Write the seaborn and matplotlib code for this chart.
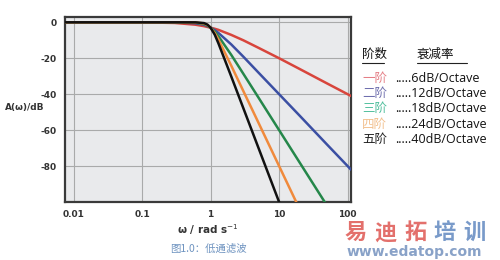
import numpy as np
import pandas as pd
import matplotlib
matplotlib.use("Agg")
import matplotlib.pyplot as plt
import seaborn as sns
from matplotlib.ticker import FixedLocator, NullFormatter, LogLocator

# ---- data ----
omega = [0.0075, 0.1, 0.3, 0.6, 0.8, 0.9, 1.0, 1.15, 1.3, 2, 3, 5, 10, 20, 50, 100, 112]
order1 = [0, -0.04, -0.37, -1.34, -2.15, -2.6, -3.0, -3.6, -4.2, -7.0, -10.0, -14.2, -20.0, -26.0, -34.0, -40.0, -41.0]
order2 = [0, 0, -0.04, -0.53, -1.34, -2.1, -3.0, -4.4, -5.9, -12.3, -19.1, -28.0, -40.0, -52.0, -68.0, -80.0, -82.0]
order3 = [0, 0, 0, -0.2, -1.0, -1.8, -3.0, -5.2, -7.7, -18.1, -28.6, -41.9, -60.0, -78.1, -102.0, -120.0, -123.0]
order4 = [0, 0, 0, -0.07, -0.67, -1.5, -3.0, -6.0, -9.6, -24.1, -38.2, -55.9, -80.0, -104.1, -136.0, -160.0, -164.0]
order5 = [0, 0, 0, -0.03, -0.44, -1.3, -3.0, -6.9, -11.7, -30.1, -47.7, -69.9, -100.0, -130.1, -170.0, -200.0, -205.0]
series_names = ["一阶", "二阶", "三阶", "四阶", "五阶"]
rates = ["6dB/Octave", "12dB/Octave", "18dB/Octave", "24dB/Octave", "40dB/Octave"]
y_ticks = [0, -20, -40, -60, -80]
x_ticks = [0.01, 0.1, 1, 10, 100]
x_ticklabels = ["0.01", "0.1", "1", "10", "100"]

line_colors = ["#d8453c", "#3b4fa3", "#25874a", "#f08a3c", "#111111"]
label_colors = ["#e57f86", "#6f6fae", "#4fbf9c", "#f2c08e", "#222222"]

frames = []
for name, vals in zip(series_names, [order1, order2, order3, order4, order5]):
    frames.append(pd.DataFrame({"omega": omega, "A": vals, "order": name}))
df = pd.concat(frames, ignore_index=True)

sns.set_theme(style="white")
plt.rcParams['font.family'] = ['Noto Sans CJK SC', 'DejaVu Sans']

fig = plt.figure(figsize=(5, 2.6), dpi=100)
ax = fig.add_axes([0.13, 0.223, 0.572, 0.712])
ax.set_facecolor("#e9eaec")

sns.lineplot(data=df, x="omega", y="A", hue="order", palette=line_colors,
             hue_order=series_names, linewidth=1.8, legend=False, ax=ax, zorder=3)
ax.set_xscale("log")
ax.set_xlim(0.0075, 112)
ax.set_ylim(-100, 3)

ax.xaxis.set_major_locator(FixedLocator(x_ticks))
ax.set_xticklabels(x_ticklabels)
ax.xaxis.set_minor_locator(LogLocator(base=10, subs=np.arange(2, 10)))
ax.xaxis.set_minor_formatter(NullFormatter())
ax.set_yticks(y_ticks)
ax.set_yticklabels([str(v) for v in y_ticks])
ax.yaxis.set_minor_locator(FixedLocator(np.arange(-100, 4, 4)))

ax.grid(True, which="major", color="#a9aaaa", linewidth=0.8, zorder=0)
ax.set_axisbelow(True)
for s in ax.spines.values():
    s.set_color("#3a3a3a")
    s.set_linewidth(1.6)

ax.tick_params(axis="both", which="major", direction="in", length=3, width=1,
               color="#555555", labelsize=6.5, labelcolor="#333333", pad=6)
ax.tick_params(axis="both", which="minor", direction="in", length=2, width=0.8, color="#666666")
for lab in ax.get_xticklabels() + ax.get_yticklabels():
    lab.set_fontweight("bold")
    lab.set_family("DejaVu Sans")

ax.set_xlabel("ω / rad s$^{-1}$", fontsize=7.5, fontweight="bold", color="#333333",
              family="DejaVu Sans", labelpad=2)
ax.set_ylabel("")
fig.text(0.01, 0.585, "A(ω)/dB", fontsize=6.5, fontweight="bold", color="#333333",
         family="DejaVu Sans", va="center", ha="left")

# legend-like text block
fs = 9
fig.text(0.724, 0.79, "阶数", fontsize=fs, color="#111111", va="center", ha="left")
fig.text(0.834, 0.79, "衰减率", fontsize=fs, color="#111111", va="center", ha="left")
fig.add_artist(plt.Line2D([0.724, 0.768], [0.757, 0.757], color="#222222", linewidth=0.8))
fig.add_artist(plt.Line2D([0.834, 0.934], [0.757, 0.757], color="#222222", linewidth=0.8))
row_y = [0.70, 0.642, 0.584, 0.523, 0.462]
for name, rate, col, yy in zip(series_names, rates, label_colors, row_y):
    fig.text(0.724, yy, name, fontsize=fs, color=col, va="center", ha="left")
    fig.text(0.79, yy, "....." + rate, fontsize=fs, color="#111111", va="center", ha="left",
             family=["Open Sans", "DejaVu Sans"])

# caption and watermark
fig.text(0.34, 0.045, "图1.0：低通滤波", fontsize=7.5, color="#6e93c0", va="center", ha="left")
wm_chars = ["易", "迪", "拓", "培", "训"]
wm_cols = ["#e0615c", "#e0615c", "#e0615c", "#6a8fc4", "#6a8fc4"]
for i, (ch, cc) in enumerate(zip(wm_chars, wm_cols)):
    fig.text(0.69 + i * 0.059, 0.105, ch, fontsize=16, color=cc, fontweight="bold",
             va="center", ha="left", alpha=0.9)
fig.text(0.694, 0.03, "www.edatop.com", fontsize=10, color="#7c98c2", fontweight="bold",
         va="center", ha="left", family="DejaVu Sans", alpha=0.9)

fig.savefig("out.png", dpi=100, facecolor="white")
